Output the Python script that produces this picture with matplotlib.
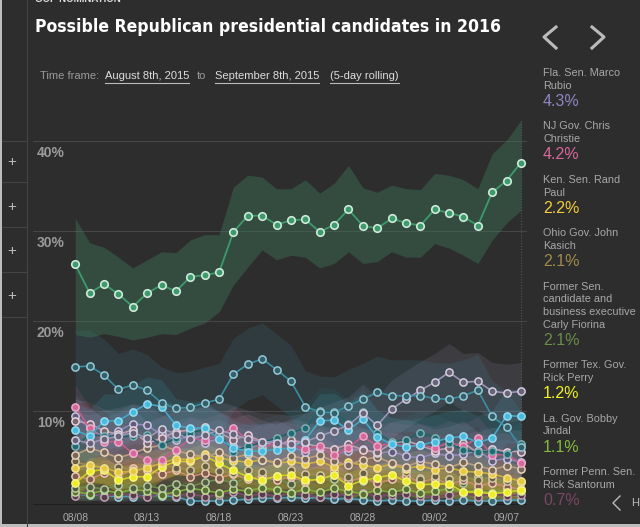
import numpy as np
import pandas as pd
import matplotlib
matplotlib.use("Agg")
import matplotlib.pyplot as plt
import matplotlib.dates as mdates
from matplotlib import font_manager as fm
from matplotlib.colors import to_rgb
from matplotlib.lines import Line2D
from matplotlib.patches import Rectangle

plt.rcParams['font.family'] = ['Liberation Sans', 'DejaVu Sans']

W, H = 640, 527
BG = "#2d2d2d"

# data (percent, 5-day rolling)
dates = pd.date_range("2015-08-08", "2015-09-08", freq="D")
yticks = [10, 20, 30, 40]

trump = [26.3, 23.1, 24.1, 23.0, 21.6, 23.1, 24.0, 23.3, 24.9, 25.1, 25.4, 29.9, 31.7, 31.7, 30.7, 31.2,
         31.3, 29.9, 30.7, 32.4, 30.6, 30.3, 31.4, 30.9, 30.6, 32.4, 32.0, 31.6, 30.6, 34.3, 35.6, 37.6]
trump_hi = [31.4, 28.7, 28.2, 27.1, 25.9, 26.8, 27.7, 27.6, 29.0, 29.6, 29.6, 34.9, 36.2, 36.0, 34.7, 34.7,
            35.7, 34.2, 35.3, 37.3, 34.8, 34.3, 35.1, 34.7, 34.6, 36.4, 36.2, 35.7, 34.7, 38.6, 40.1, 42.3]
trump_lo = [18.5, 18.2, 18.6, 18.3, 17.9, 18.2, 18.6, 18.5, 19.2, 19.8, 21.0, 24.0, 26.0, 27.9, 26.8, 27.3,
            27.1, 25.9, 26.4, 27.7, 26.4, 26.6, 27.7, 27.1, 27.1, 28.6, 28.1, 27.3, 26.4, 29.0, 30.9, 32.3]

teal = [14.9, 15.0, 14.0, 12.4, 12.9, 12.3, 10.9, 10.3, 10.4, 10.9, 11.3, 14.1, 15.2, 15.8, 14.6, 13.3,
        10.5, 9.9, 9.8, 10.6, 11.3, 12.1, 11.7, 11.7, 11.7, 11.4, 11.3, 11.7, 12.3, 9.4, 8.2, 6.0]
cyan = [7.9, 7.2, 8.9, 8.9, 9.9, 10.8, 10.5, 8.4, 8.1, 8.1, 6.9, 5.9, 5.5, 5.6, 5.7, 5.9,
        6.8, 8.9, 9.0, 7.9, 9.1, 7.1, 6.3, 6.0, 6.2, 6.6, 7.0, 7.2, 6.5, 7.0, 9.5, 9.4]
lilac = [6.8, 6.4, 6.9, 7.2, 7.6, 7.0, 8.0, 7.5, 6.9, 7.3, 7.9, 7.4, 6.9, 6.6, 6.5, 6.3,
         6.6, 7.2, 7.8, 8.4, 9.8, 8.4, 10.2, 11.3, 12.3, 13.2, 14.3, 13.2, 13.3, 12.2, 12.0, 12.2]
darkteal = [6.1, 7.4, 7.2, 7.2, 7.2, 7.3, 6.2, 7.0, 7.6, 7.9, 7.4, 5.5, 6.1, 6.5, 7.0, 7.6,
            8.1, 10.0, 9.9, 8.6, 9.9, 7.6, 6.6, 6.8, 7.6, 7.0, 6.4, 5.7, 5.4, 5.6, 5.2, 6.3]
rosy = [8.9, 8.6, 7.8, 7.4, 7.9, 6.4, 7.0, 7.7, 7.9, 8.2, 7.6, 6.8, 7.3, 6.6, 6.1, 6.8,
        6.4, 6.0, 5.8, 6.3, 5.7, 5.4, 6.4, 6.7, 6.2, 5.6, 5.9, 6.5, 5.3, 5.8, 5.5, 5.5]
tan = [5.1, 5.9, 5.4, 4.8, 5.3, 5.9, 6.2, 5.6, 5.2, 4.9, 5.4, 4.8, 5.2, 4.6, 4.3, 5.0,
       4.7, 5.1, 4.4, 4.0, 4.6, 4.9, 4.2, 3.8, 4.4, 4.1, 3.7, 4.3, 3.9, 3.5, 3.9, 3.6]
salmon = [2.8, 2.4, 3.1, 2.6, 3.7, 3.5, 3.0, 3.4, 2.7, 3.1, 2.6, 3.0, 2.4, 2.8, 2.3, 2.7,
          2.1, 2.5, 2.9, 2.2, 2.6, 2.0, 2.4, 2.8, 2.1, 2.5, 1.9, 2.3, 1.7, 2.0, 1.6, 1.3]
lowcyan = [0.7, 0.7, 0.6, 0.5, 0.5, 0.6, 0.6, 0.5, 0.0, 0.0, 0.0, 0.1, 0.2, 0.3, 0.3, 0.4,
           0.3, 0.4, 0.2, 0.3, 0.1, 0.0, 0.1, 0.0, 0.0, 0.1, 0.0, 0.1, 0.0, 0.0, 0.1, 0.1]

rubio = [9.5, 8.1, 7.0, 7.8, 8.6, 8.4, 7.4, 6.8, 7.2, 6.5, 6.9, 6.1, 5.8, 6.4, 6.8, 6.0,
         5.5, 5.9, 5.2, 5.6, 5.8, 5.3, 5.5, 5.0, 4.8, 5.3, 5.0, 5.2, 5.6, 4.5, 4.7, 4.3]
christie = [10.5, 8.1, 6.6, 6.6, 5.3, 4.6, 4.6, 5.7, 6.9, 6.8, 7.3, 8.1, 6.8, 5.9, 6.5, 6.3,
            5.8, 6.1, 5.1, 5.9, 7.2, 6.1, 6.4, 6.1, 6.2, 5.9, 6.5, 6.1, 7.0, 5.1, 5.2, 4.2]
paul = [3.7, 4.0, 3.7, 3.2, 3.3, 3.7, 4.2, 4.7, 4.6, 5.2, 4.8, 4.5, 4.3, 4.6, 4.2, 4.4,
        4.1, 4.4, 3.8, 4.3, 4.0, 3.7, 4.1, 3.6, 3.9, 3.5, 3.7, 3.3, 3.2, 3.0, 2.6, 2.2]
kasich = [4.4, 3.9, 3.6, 3.8, 3.4, 3.9, 4.1, 3.7, 3.5, 3.9, 3.3, 3.1, 3.5, 3.2, 2.8, 3.4,
          3.0, 2.9, 3.3, 2.7, 3.1, 2.6, 2.9, 3.2, 2.5, 2.8, 2.4, 2.7, 2.3, 2.6, 2.2, 2.1]
fiorina = [1.4, 1.6, 1.3, 1.8, 1.5, 1.7, 1.4, 1.9, 1.6, 2.1, 2.4, 2.0, 2.6, 2.2, 2.5, 1.9,
           2.3, 2.8, 2.4, 2.7, 2.2, 2.5, 2.9, 2.3, 2.6, 2.1, 2.4, 2.0, 2.7, 2.5, 2.2, 2.1]
perry = [2.0, 3.3, 3.5, 2.3, 2.7, 2.7, 3.8, 4.4, 4.4, 5.0, 4.2, 3.4, 2.7, 2.3, 2.8, 2.9,
         2.3, 2.4, 2.9, 1.7, 2.3, 2.6, 2.9, 2.2, 1.8, 1.9, 1.9, 1.0, 1.0, 0.8, 1.0, 1.2]
jindal = [1.0, 0.8, 1.2, 0.9, 1.3, 1.1, 0.7, 1.0, 1.4, 1.2, 0.9, 1.3, 1.1, 1.5, 1.2, 0.9,
          1.3, 1.0, 1.4, 1.1, 0.8, 1.2, 1.0, 1.3, 0.9, 1.1, 1.4, 1.0, 1.2, 0.9, 1.3, 1.1]
santorum = [0.6, 0.9, 0.5, 0.8, 0.7, 0.4, 0.9, 0.6, 0.8, 0.5, 0.7, 1.0, 0.6, 0.8, 0.5, 0.9,
            0.7, 0.4, 0.8, 0.6, 0.9, 0.5, 0.7, 0.8, 0.6, 0.4, 0.7, 0.9, 0.5, 0.8, 0.6, 0.7]

legend_names = ["Fla. Sen. Marco\nRubio", "NJ Gov. Chris\nChristie", "Ken. Sen. Rand\nPaul",
                "Ohio Gov. John\nKasich", "Former Sen.\ncandidate and\nbusiness executive\nCarly Fiorina",
                "Former Tex. Gov.\nRick Perry", "La. Gov. Bobby\nJindal", "Former Penn. Sen.\nRick Santorum"]
legend_series = [rubio, christie, paul, kasich, fiorina, perry, jindal, santorum]
legend_colors = ["#8f86c4", "#d9679b", "#f2cf3a", "#a08a4c", "#6a8d4a", "#f2f21e", "#86bb3c", "#7a4862"]

# (values, colour, filled marker?, band half width)
series = [
    (lowcyan, "#56aec8", False, 0.6),
    (santorum, "#8a5070", False, 0.8),
    (jindal, "#8fbf3f", False, 0.9),
    (fiorina, "#7a9a55", False, 1.2),
    (salmon, "#e39a78", False, 1.5),
    (kasich, "#b09a5a", False, 1.6),
    (perry, "#eeec22", True, 1.5),
    (paul, "#e8c83c", True, 1.8),
    (tan, "#d3b08a", False, 2.0),
    (rubio, "#a098d0", False, 2.2),
    (rosy, "#d8b0c4", False, 2.4),
    (christie, "#d9679b", True, 2.4),
    (darkteal, "#1f6c74", True, 2.6),
    (cyan, "#48bce0", True, 3.0),
    (lilac, "#b0a6cc", False, 3.2),
    (teal, "#3e9fb6", False, 4.0),
]
band_alpha = {"#eeec22": 0.2, "#e8c83c": 0.2}


def mix(c, other, t):
    a, b = np.array(to_rgb(c)), np.array(to_rgb(other))
    return tuple(a * (1 - t) + b * t)


fig = plt.figure(figsize=(W / 100, H / 100), dpi=100, facecolor=BG)
ax = fig.add_axes([33 / W, 1 - 505 / H, 494 / W, 405 / H], facecolor=BG)
ax.set_xlim(dates[0] - pd.Timedelta(days=2.94), dates[-1] + pd.Timedelta(days=0.42))
ax.set_ylim(-0.44, 44.56)

for y in yticks:
    ax.axhline(y, color="#464646", lw=0.8, zorder=0)
    ax.annotate(f"{y}%", (0.008, y), xycoords=ax.get_yaxis_transform(),
                xytext=(0, -12), textcoords="offset pixels", ha="left", va="center",
                fontsize=10, fontweight="bold", color="#9a9a9a", zorder=1)
ax.axhline(-0.44, color="#1e1e1e", lw=2, zorder=0)
ax.axvline(dates[-1], ymin=0, ymax=0.95, color="#555555", lw=0.8, ls=(0, (1, 1.5)), zorder=0)

# uncertainty bands
for vals, col, filled, m in series:
    v = np.array(vals)
    ax.fill_between(dates, np.clip(v - m, 0, None), v + m, color=col,
                    alpha=band_alpha.get(col, 0.13), lw=0, zorder=1)
ax.fill_between(dates, trump_lo, trump_hi, color="#3e7f5e", alpha=0.38, lw=0, zorder=1)

for vals, col, filled, m in series:
    face = col if filled else mix(col, BG, 0.55)
    ax.plot(dates, vals, color=mix(col, BG, 0.15), lw=1.2, marker="o", ms=5.2,
            mfc=face, mec=mix(col, "white", 0.45), mew=1.1, zorder=3)
ax.plot(dates, trump, color="#3d9a6c", lw=1.3, marker="o", ms=5.4,
        mfc="#3d9a6c", mec="#cfe9da", mew=1.2, zorder=4)

ax.set_xticks(dates[::5])
ax.xaxis.set_major_formatter(mdates.DateFormatter("%m/%d"))
ax.tick_params(axis="x", length=0, pad=6, labelsize=7.5, labelcolor="#aaaaaa")
ax.set_yticks([])
for s in ax.spines.values():
    s.set_visible(False)


# page furniture
def fx(x):
    return x / W


def fy(y):
    return 1 - y / H


names = {f.name for f in fm.fontManager.ttflist}
if "Liberation Sans Narrow" in names:
    narrow = {"family": ["Liberation Sans Narrow", "DejaVu Sans"]}
elif any(f.name == "DejaVu Sans" and f.stretch == "condensed" for f in fm.fontManager.ttflist):
    narrow = {"family": ["DejaVu Sans"], "fontstretch": "condensed"}
else:
    narrow = {"family": ["Liberation Sans", "DejaVu Sans"]}

fig.text(fx(35), fy(-1), "GOP NOMINATION", fontsize=7, fontweight="bold", color="#dddddd", va="center")
title = fig.text(fx(35), fy(27), "Possible Republican presidential candidates in 2016", fontsize=15,
                 fontweight="bold", color="white", va="center", **narrow)
fig.canvas.draw()
rend = fig.canvas.get_renderer()
tw = title.get_window_extent(rend).width
if tw > 468:
    title.set_fontsize(15 * 465 / tw)

frame_parts = [("Time frame:", 40, "#9a9a9a", False), ("August 8th, 2015", 105, "#dddddd", True),
               ("to", 197, "#9a9a9a", False), ("September 8th, 2015", 215, "#dddddd", True),
               ("(5-day rolling)", 330, "#dddddd", True)]
for txt, x0, col, under in frame_parts:
    t = fig.text(fx(x0), fy(76), txt, fontsize=8, color=col, va="center", family=["Liberation Sans", "DejaVu Sans"])
    if under:
        bb = t.get_window_extent(rend)
        fig.add_artist(Line2D([bb.x0 / W, bb.x1 / W], [fy(83), fy(83)], color="#bbbbbb", lw=0.8))

# left column with + buttons
fig.add_artist(Rectangle((0, 0), fx(2), 1, color="#bdbdbd", lw=0))
fig.add_artist(Line2D([fx(27), fx(27)], [0, 1], color="#444444", lw=0.8))
for y in [141, 182, 227, 272, 317]:
    fig.add_artist(Line2D([fx(2), fx(27)], [fy(y), fy(y)], color="#444444", lw=0.8))
for y in [162, 207, 251, 296]:
    fig.text(fx(12), fy(y), "+", fontsize=11, color="#bbbbbb", ha="center", va="center")
fig.add_artist(Rectangle((0, 0), 1, 3 / H, color="#bdbdbd", lw=0))

# navigation chevrons
for xa, xb in [(556, 544), (592, 604)]:
    fig.add_artist(Line2D([fx(xa), fx(xb), fx(xa)], [fy(27), fy(37), fy(48)], color="#bbbbbb", lw=2.2))
fig.add_artist(Line2D([fx(620), fx(613), fx(620)], [fy(496), fy(503), fy(510)], color="#bbbbbb", lw=1))
fig.text(fx(631), fy(503), "H", fontsize=8, color="#bbbbbb", va="center")

# legend on the right
y = 67
for name, vals, col in zip(legend_names, legend_series, legend_colors):
    lines = name.split("\n")
    for k, ln in enumerate(lines):
        fig.text(fx(543), fy(y + 6 + k * 12.7), ln, fontsize=7.8, color="#a8a8a8", va="center")
    yv = y + len(lines) * 12.7 + 9
    fig.text(fx(543), fy(yv), f"{vals[-1]:.1f}%", fontsize=11.5, color=col, va="center")
    y = yv + 19

fig.savefig("out.png", dpi=100, facecolor=BG)
